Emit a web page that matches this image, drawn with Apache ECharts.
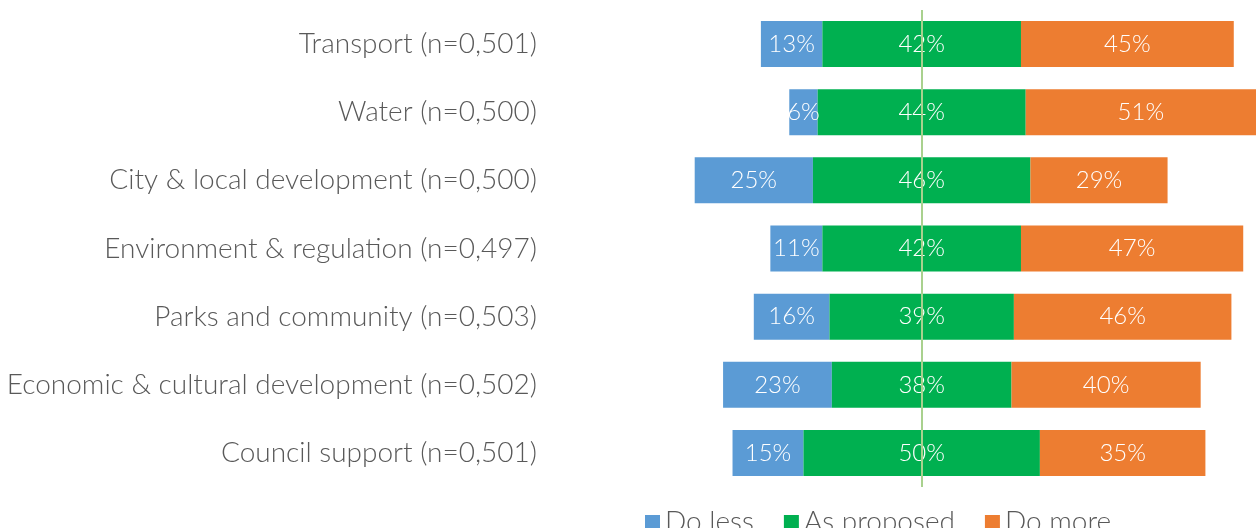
<!DOCTYPE html>
<html>
<head>
<meta charset="utf-8">
<script src="https://cdn.jsdelivr.net/npm/echarts@6/dist/echarts.min.js"></script>
<style>
  html, body { margin: 0; padding: 0; background: #fff; }
  #chart { width: 1256px; height: 528px; }
</style>
</head>
<body>
<div id="chart"></div>
<script>
// 各类别及三组百分比
var categories = [
  "Transport (n=0,501)",
  "Water (n=0,500)",
  "City & local development (n=0,500)",
  "Environment & regulation (n=0,497)",
  "Parks and community (n=0,503)",
  "Economic & cultural development (n=0,502)",
  "Council support (n=0,501)"
];
var doLess = [13, 6, 25, 11, 16, 23, 15];
var asProposed = [42, 44, 46, 42, 39, 38, 50];
var doMore = [45, 51, 29, 47, 46, 40, 35];
var seriesNames = ["Do less", "As proposed", "Do more"];
var colors = ["#5B9BD5", "#00B050", "#ED7D31"];

var CENTER = 78.6; // 中线位置（轴单位）
var AXIS_MAX = 149.3;

// 透明的偏移量，让"As proposed"居中
var offset = doLess.map(function (v, i) {
  return CENTER - v - asProposed[i] / 2;
});

var font = "Lato, 'Open Sans', sans-serif";

var segLabel = {
  show: true,
  position: "inside",
  color: "#fff",
  fontFamily: font,
  fontWeight: 300,
  fontSize: 24,
  formatter: function (p) {
    return p.value + "%";
  }
};

var myChart = echarts.init(document.getElementById("chart"));
var option = {
  animation: false,
  grid: {
    left: 550,
    right: 0,
    top: 10,
    bottom: 41
  },
  legend: {
    data: seriesNames,
    left: 640,
    top: 503,
    itemWidth: 15,
    itemHeight: 14,
    itemGap: 30,
    icon: "rect",
    textStyle: {
      color: "#595959",
      fontFamily: font,
      fontWeight: 300,
      fontSize: 28
    }
  },
  xAxis: {
    type: "value",
    min: 0,
    max: AXIS_MAX,
    show: false
  },
  yAxis: {
    type: "category",
    inverse: true,
    data: categories,
    axisLine: { show: false },
    axisTick: { show: false },
    axisLabel: {
      margin: 13,
      color: "#595959",
      fontFamily: font,
      fontWeight: 300,
      fontSize: 28
    }
  },
  series: [
    {
      name: "offset",
      type: "bar",
      stack: "total",
      silent: true,
      barCategoryGap: "32.5%",
      itemStyle: { color: "transparent" },
      data: offset,
      markLine: {
        silent: true,
        symbol: "none",
        label: { show: false },
        lineStyle: { color: "#A9D18E", width: 2, type: "solid" },
        data: [{ xAxis: CENTER }]
      }
    },
    {
      name: seriesNames[0],
      type: "bar",
      stack: "total",
      itemStyle: { color: colors[0] },
      label: segLabel,
      data: doLess
    },
    {
      name: seriesNames[1],
      type: "bar",
      stack: "total",
      itemStyle: { color: colors[1] },
      label: segLabel,
      data: asProposed
    },
    {
      name: seriesNames[2],
      type: "bar",
      stack: "total",
      itemStyle: { color: colors[2] },
      label: segLabel,
      data: doMore
    }
  ]
};
myChart.setOption(option);
</script>
</body>
</html>
